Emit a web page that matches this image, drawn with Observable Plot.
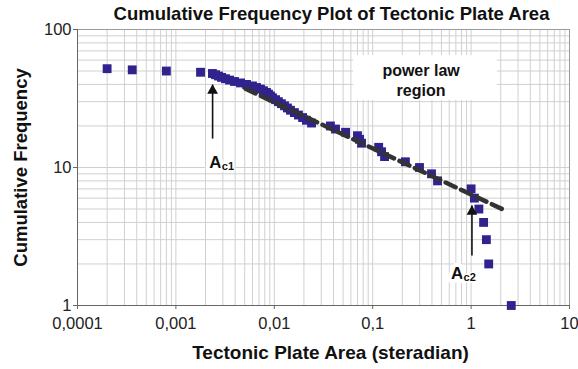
<!DOCTYPE html>
<html><head><meta charset="utf-8">
<script src="https://cdn.jsdelivr.net/npm/d3@7"></script>
<script src="https://cdn.jsdelivr.net/npm/@observablehq/plot@0.6"></script>
<style>body{margin:0;background:#fff;}</style>
</head><body><div id="chart"></div>
<script>
// Cumulative frequency (rank) of each plate and its area (steradian)
const frequency = [52,51,50,49,48,47,46,45,44,43,42,41,40,39,38,37,36,35,34,33,32,31,30,29,28,27,26,25,24,23,22,21,20,19,18,17,16,15,14,13,12,11,10,9,8,7,6,5,4,3,2,1];
const plateArea = [0.000200,0.000360,0.000800,0.00178,0.00235,0.00253,0.00271,0.00291,0.00319,0.00351,0.00394,0.00454,0.00522,0.00600,0.00659,0.00724,0.00777,0.00833,0.00873,0.00915,0.00959,0.0103,0.0110,0.0118,0.0127,0.0136,0.0146,0.0160,0.0176,0.0194,0.0212,0.0239,0.0372,0.0419,0.053,0.070,0.0735,0.077,0.115,0.123,0.132,0.215,0.299,0.396,0.456,1.00,1.08,1.20,1.34,1.43,1.51,2.56];

// power-law fit (end points)
const fitArea = [0.0051, 2.07];
const fitFrequency = [37.2, 5.0];

// axis ticks
const xTickValues = [0.0001, 0.001, 0.01, 0.1, 1, 10];
const xTickLabels = ["0,0001", "0,001", "0,01", "0,1", "1", "10"];
const yTickValues = [1, 10, 100];

// annotations
const arrowArea = [0.00236, 1.02];
const arrowFrom = [16.2, 2.3];
const arrowTo = [39.9, 5.3];
const labelArea = [0.00252, 0.723];
const labelFreq = [10.9, 1.71];
const labelSub = ["c1", "c2"];
const regionText = "power law\nregion";
const regionArea = 0.31, regionFreq = 43.4;
const regionBoxArea = [0.064, 1.85];
const regionBoxFreq = [30.6, 64.8];

const title = "Cumulative Frequency Plot of Tectonic Plate Area";
const xLabel = "Tectonic Plate Area (steradian)";
const yLabel = "Cumulative Frequency";

const points = frequency.map((f, i) => ({area: plateArea[i], freq: f}));
const fit = fitArea.map((a, i) => ({area: a, freq: fitFrequency[i]}));
const arrows = arrowArea.map((a, i) => ({area: a, from: arrowFrom[i], to: arrowTo[i]}));
const labels = labelArea.map((a, i) => ({area: a, freq: labelFreq[i], sub: labelSub[i]}));

const minorX = d3.range(-4, 1).flatMap(e => d3.range(1, 10).map(k => k * 10 ** e)).concat([10]);
const minorY = d3.range(0, 2).flatMap(e => d3.range(1, 10).map(k => k * 10 ** e)).concat([100]);

const font = "'Liberation Sans', Arial, sans-serif";
const pointColor = "#31238e";

const chart = Plot.plot({
  width: 578,
  height: 369,
  marginLeft: 77,
  marginRight: 9,
  marginTop: 29,
  marginBottom: 64,
  style: {fontFamily: font, fontSize: "16px", color: "#222", background: "#fff"},
  x: {type: "log", domain: [0.0001, 10]},
  y: {type: "log", domain: [1, 100]},
  marks: [
    Plot.ruleX(minorX, {stroke: "#d0d0d0", strokeWidth: 1}),
    Plot.ruleY(minorY, {stroke: "#d0d0d0", strokeWidth: 1}),
    Plot.rect([0], {x1: () => regionBoxArea[0], x2: () => regionBoxArea[1], y1: () => regionBoxFreq[0], y2: () => regionBoxFreq[1], fill: "#fff"}),
    Plot.frame({stroke: "#9a9a9a"}),
    Plot.ruleX([xTickValues[0]], {stroke: "#666"}),
    Plot.ruleY([yTickValues[0]], {stroke: "#666"}),
    Plot.axisX({ticks: xTickValues, tickFormat: d => xTickLabels[xTickValues.indexOf(d)], tickSize: 4, tickPadding: 8, fontSize: 16.5, label: null, stroke: "#666"}),
    Plot.axisY({ticks: yTickValues, tickFormat: d => String(d), tickSize: 4, tickPadding: 2, fontSize: 16.5, label: null, stroke: "#666"}),
    Plot.dot(points, {x: "area", y: "freq", symbol: "square", r: 5, fill: pointColor, stroke: null}),
    Plot.line(fit, {x: "area", y: "freq", stroke: "#333", strokeWidth: 4.5, strokeDasharray: "11,6"}),
    Plot.link(arrows, {x1: "area", x2: "area", y1: "from", y2: "to", stroke: "#111", strokeWidth: 1.6}),
    Plot.dot(arrows, {x: "area", y: "to", symbol: "triangle", r: 4, fill: "#111", stroke: null, dy: 6}),
    Plot.text(labels, {x: "area", y: "freq", text: () => "A", fontSize: 17, fontWeight: "bold", fill: "#111", stroke: "#fff", strokeWidth: 8, strokeLinejoin: "round"}),
    Plot.text(labels, {x: "area", y: "freq", text: "sub", fontSize: 11, fontWeight: "bold", fill: "#111", dx: 12.5, dy: 4, textAnchor: "middle", stroke: "#fff", strokeWidth: 3}),
    Plot.text([regionText], {x: () => regionArea, y: () => regionFreq, text: d => d, fontSize: 16, fontWeight: "bold", fill: "#111", lineHeight: 1.25}),
    Plot.text([title], {frameAnchor: "top", lineAnchor: "middle", dy: -15, dx: 8, fontSize: 18.5, fontWeight: "bold", fill: "#111"}),
    Plot.text([xLabel], {frameAnchor: "bottom", lineAnchor: "middle", dy: 47, dx: 7, fontSize: 19, fontWeight: "bold", fill: "#111"}),
    Plot.text([yLabel], {frameAnchor: "left", textAnchor: "middle", lineAnchor: "middle", dx: -56, rotate: -90, fontSize: 18.5, fontWeight: "bold", fill: "#111"})
  ]
});
document.getElementById("chart").appendChild(chart);
</script>
</body></html>
